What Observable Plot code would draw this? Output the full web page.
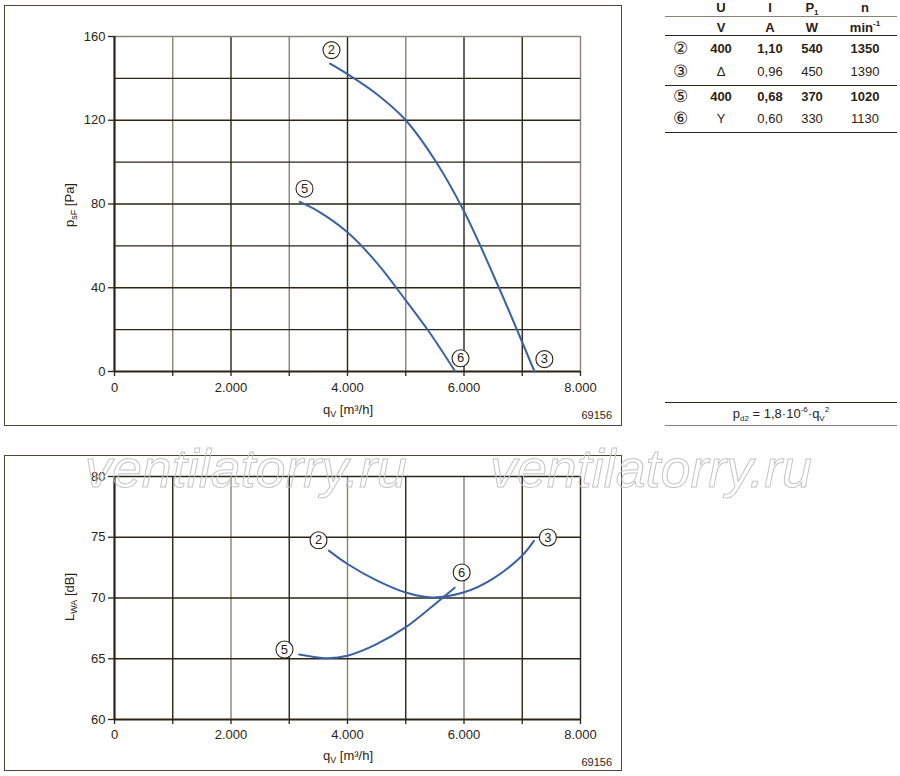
<!DOCTYPE html>
<html><head><meta charset="utf-8">
<script src="https://cdn.jsdelivr.net/npm/d3@7"></script>
<script src="https://cdn.jsdelivr.net/npm/@observablehq/plot@0.6"></script>
<style>
body{margin:0;background:#fff;font-family:"Liberation Sans",Arial,sans-serif;color:#2a2216;}
#page{position:relative;width:900px;height:776px;overflow:hidden;background:#fff;}
.box{position:absolute;border:1.6px solid #4d4535;box-sizing:border-box;}
.t{position:absolute;transform:translate(-50%,-50%);font-size:13px;white-space:nowrap;line-height:1;}
.b{font-weight:bold;}
.hl{position:absolute;left:665px;width:232px;height:0;}
sub,sup{font-size:0.62em;line-height:0;}
svg.plot{position:absolute;left:0;}
</style></head><body><div id="page"></div>
<script>
// ---------- data ----------
const qTicks = [0,1000,2000,3000,4000,5000,6000,7000,8000];
const qLabeled = [0,2000,4000,6000,8000];
const pTicks = [0,40,80,120,160];
const pGrid = [20,40,60,80,100,120,140,160];
const lTicks = [60,65,70,75,80];

// pressure curves (top chart)
const topQ23 = [3700,4000,4500,5000,5500,6000,6600,7210];
const topP23 = [147,142,132.5,120,101,76.5,40,0];
const topQ56 = [3180,3500,4000,4500,5000,5400,5850];
const topP56 = [81,76.5,66.5,52,34,19,0];

// sound power curves (bottom chart)
const botQ23 = [3680,4000,4500,5000,5450,6000,6500,7000,7200];
const botL23 = [73.9,72.8,71.45,70.45,70.05,70.47,71.6,73.5,74.7];
const botQ56 = [3170,3650,4000,4500,5000,5400,5840];
const botL56 = [65.35,65.05,65.25,66.2,67.6,69.1,70.85];

// curve id labels
const topLabelIds = ["2","5","6","3"];
const topLabelQ = [3725,3262,5940,7380];
const topLabelP = [153.5,87.3,6.3,5.9];
const botLabelIds = ["2","3","6","5"];
const botLabelQ = [3502,7440,5960,2918];
const botLabelL = [74.75,74.98,72.1,65.76];

// table
const tableHead = ["U","I","P<sub>1</sub>","n"];
const tableUnits = ["V","A","W","min<sup>-1</sup>"];
const tableIds = ["②","③","⑤","⑥"];
const tableU = ["400","Δ","400","Y"];
const tableI = ["1,10","0,96","0,68","0,60"];
const tableP = ["540","450","370","330"];
const tableN = ["1350","1390","1020","1130"];
const tableBold = [true,false,true,false];

// ---------- drawing ----------
const FONT = '"Liberation Sans", Arial, sans-serif';
const DARK = "#2b2416", GREY = "#8a8274", BLUE = "#3a62a0";
const fmtQ = d => d === 0 ? "0" : (d/1000).toFixed(3);
const page = document.getElementById("page");

function addBox(l,t,w,h){
  const b = document.createElement("div"); b.className="box";
  Object.assign(b.style,{left:l+"px",top:t+"px",width:w+"px",height:h+"px"});
  page.appendChild(b);
}
addBox(4,5,618,421);
addBox(4,455,618,316);

function chart(o){
  const labels = o.ids.map((id,i)=>({id, x:o.lx[i], y:o.ly[i]}));
  return Plot.plot({
    width:640, height:o.height, marginLeft:114, marginRight:60, marginTop:36, marginBottom:o.mb,
    x:{domain:[0,8000]}, y:{domain:o.yDomain},
    style:{fontFamily:FONT, fontSize:"13px", color:DARK, background:"transparent", overflow:"visible"},
    marks:[
      Plot.ruleX(qTicks.filter(d=>d>0), {x:d=>d, stroke:o.vColor, strokeWidth:1.4}),
      Plot.ruleY(o.yGrid, {y:d=>d, stroke:o.hColor, strokeWidth:1.3}),
      Plot.axisX(qTicks, {tickFormat:d=>qLabeled.includes(d)?fmtQ(d):"", tickSize:5, tickPadding:o.xpad, label:null, strokeWidth:1.3}),
      Plot.axisY(o.yTicks, {tickSize:6, tickPadding:3, label:null, strokeWidth:1.3}),
      Plot.ruleX([0],{stroke:DARK,strokeWidth:2.2}),
      Plot.ruleY([o.yDomain[0]],{stroke:DARK,strokeWidth:2.2}),
      ...o.curves.map(c=>Plot.line(c[0],{x:c[0], y:c[1], curve:"catmull-rom", stroke:BLUE, strokeWidth:2})),
      Plot.dot(labels,{x:"x",y:"y",r:8.5,fill:"white",stroke:DARK,strokeWidth:1.1}),
      Plot.text(labels,{x:"x",y:"y",text:"id",fontSize:13,fill:DARK})
    ]
  });
}

function addLabels(svg, ylab, ysub, yrest, yc, xlabY, codeY){
  const s = d3.select(svg);
  const yt = s.append("text").attr("transform",`translate(74,${yc}) rotate(-90)`)
    .attr("text-anchor","middle").attr("fill",DARK).style("font-size","13px").style("font-family",FONT);
  yt.append("tspan").text(ylab);
  yt.append("tspan").attr("dy",3).style("font-size","9px").text(ysub);
  yt.append("tspan").attr("dy",-3).text(yrest);
  const xt = s.append("text").attr("x",348).attr("y",xlabY).attr("text-anchor","middle")
    .attr("fill",DARK).style("font-size","13px").style("font-family",FONT);
  xt.append("tspan").text("q");
  xt.append("tspan").attr("dy",3).style("font-size","9px").text("V");
  xt.append("tspan").attr("dy",-3).text(" [m³/h]");
  s.append("text").attr("x",612).attr("y",codeY).attr("text-anchor","end").attr("fill",DARK)
    .style("font-size","11px").style("font-family",FONT).text("69156");
}

const topSvg = chart({
  height:430, mb:59, yDomain:[0,160], yTicks:pTicks, yGrid:pGrid, xpad:6,
  vColor: d => (d/1000)%2===0 || d===7000 ? (d===8000?GREY:DARK) : GREY,
  hColor: d => d===160 ? GREY : DARK,
  curves:[[topQ23,topP23],[topQ56,topP56]],
  ids:topLabelIds, lx:topLabelQ, ly:topLabelP
});
topSvg.classList.add("plot"); topSvg.style.top="0px";
page.appendChild(topSvg);
addLabels(topSvg,"p","sF"," [Pa]",205,414,419);

const botSvg = chart({
  height:336, mb:57, yDomain:[60,80], yTicks:lTicks, yGrid:[65,70,75,80], xpad:5,
  vColor: d => (d/1000)%2===1 || d===8000 ? DARK : GREY,
  hColor: () => DARK,
  curves:[[botQ23,botL23],[botQ56,botL56]],
  ids:botLabelIds, lx:botLabelQ, ly:botLabelL
});
botSvg.classList.add("plot"); botSvg.style.top="440px";
page.appendChild(botSvg);
addLabels(botSvg,"L","WA"," [dB]",597-440,320,326);

// table
function cell(html,x,y,bold,size){
  const d=document.createElement("div"); d.className="t"+(bold?" b":"");
  d.innerHTML=html; d.style.left=x+"px"; d.style.top=y+"px";
  if(size) d.style.fontSize=size+"px";
  page.appendChild(d);
}
const colX=[721,770,812,865];
tableHead.forEach((h,i)=>cell(h,colX[i],7,true));
tableUnits.forEach((h,i)=>cell(h,colX[i],27,true));
const rowY=[48,71,96,118];
tableIds.forEach((id,r)=>{
  cell(id,680,rowY[r],false,17);
  [tableU[r],tableI[r],tableP[r],tableN[r]].forEach((v,i)=>cell(v,colX[i],rowY[r],tableBold[r]));
});
function hline(y,color,w){
  const d=document.createElement("div"); d.className="hl";
  d.style.top=y+"px"; d.style.borderTop=`${w}px solid ${color}`; page.appendChild(d);
}
hline(16,GREY,1.5); hline(35,DARK,1.5); hline(85,DARK,1.5); hline(132,DARK,1.5);
hline(402,DARK,1.3); hline(424.5,GREY,1.3);
cell("p<sub>d2</sub> = 1,8·10<sup>-6</sup>·q<sub>V</sub><sup>2</sup>",781,413,false);

// watermark
const wm = d3.select(page).append("svg").attr("width",900).attr("height",776)
  .style("position","absolute").style("left","0px").style("top","0px").style("pointer-events","none");
[85,490].forEach(x=>{
  wm.append("text").attr("x",x).attr("y",487).attr("textLength",322).attr("lengthAdjust","spacingAndGlyphs")
    .style("font-family",FONT).style("font-style","italic").style("font-size","54px")
    .attr("fill","none").attr("stroke","#c4c4c4").attr("stroke-width",1).text("ventilatorry.ru");
});
</script></body></html>
